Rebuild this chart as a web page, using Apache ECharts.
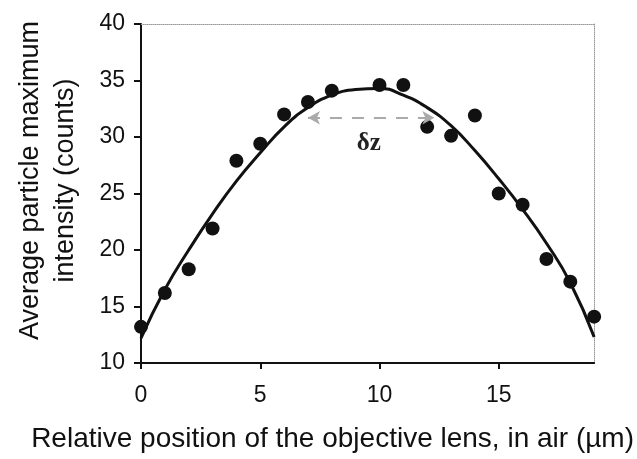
<!DOCTYPE html>
<html>
<head>
<meta charset="utf-8">
<script src="https://cdn.jsdelivr.net/npm/echarts@6/dist/echarts.min.js"></script>
<style>html,body{margin:0;padding:0;background:#fff;}#c{width:637px;height:459px;}</style>
</head>
<body>
<div id="c"></div>
<script>
// Measured points
const pointX = [0, 1, 2, 3, 4, 5, 6, 7, 8, 10, 11, 12, 13, 14, 15, 16, 17, 18, 19];
const pointY = [13.2, 16.2, 18.3, 21.9, 27.9, 29.4, 32.0, 33.1, 34.1, 34.6, 34.6, 30.9, 30.1, 31.9, 25.0, 24.0, 19.2, 17.2, 14.1];
// Fitted curve
const curveX = [0, 1, 2, 3, 4, 5, 6, 7, 8, 9, 10, 11, 12, 13, 14, 15, 16, 17, 18, 19];
const curveY = [12.2, 16.5, 20.0, 23.2, 26.1, 28.6, 30.9, 32.6, 33.7, 34.2, 34.3, 33.7, 32.6, 31.0, 28.8, 26.3, 23.6, 20.6, 17.1, 12.3];
// delta-z arrow
const arrowFrom = [7.0, 31.7];
const arrowTo = [12.3, 31.7];
const deltaLabelPos = [9.55, 29.4];
const xTicks = [0, 5, 10, 15];
const yTicks = [10, 15, 20, 25, 30, 35, 40];

const chart = echarts.init(document.getElementById('c'), null, {renderer: 'canvas'});
const font = 'Liberation Sans, Arial, sans-serif';
chart.setOption({
  animation: false,
  backgroundColor: '#fff',
  grid: {left: 141, top: 24, width: 454, height: 339, containLabel: false},
  xAxis: [{
    type: 'value', min: 0, max: 19, interval: 5,
    name: 'Relative position of the objective lens, in air (\u00b5m)',
    nameLocation: 'middle', nameGap: 62,
    nameTextStyle: {fontFamily: font, fontSize: 28, color: '#111', padding: [0, 70, 0, 0]},
    axisLine: {show: true, lineStyle: {color: '#111', width: 2}},
    axisTick: {show: true, inside: false, length: 6, lineStyle: {color: '#111', width: 2}, customValues: xTicks},
    axisLabel: {fontFamily: font, fontSize: 23, color: '#111', margin: 21, customValues: xTicks},
    splitLine: {show: false}
  }, {
    type: 'value', min: 0, max: 19, position: 'top',
    axisLine: {show: true, onZero: false, lineStyle: {color: '#999', width: 1, type: 'dotted'}},
    axisTick: {show: false}, axisLabel: {show: false}, splitLine: {show: false}
  }],
  yAxis: [{
    type: 'value', min: 10, max: 40, interval: 5,
    name: 'Average particle maximum\nintensity (counts)',
    nameLocation: 'middle', nameGap: 58, nameRotate: 90,
    nameTextStyle: {fontFamily: font, fontSize: 27, color: '#111', lineHeight: 35, padding: [0, 0, 0, 26]},
    axisLine: {show: true, lineStyle: {color: '#111', width: 2}},
    axisTick: {show: true, inside: false, length: 7, lineStyle: {color: '#111', width: 2}, customValues: yTicks},
    axisLabel: {fontFamily: font, fontSize: 23, color: '#111', margin: 16, customValues: yTicks},
    splitLine: {show: false}
  }, {
    type: 'value', min: 10, max: 40, position: 'right',
    axisLine: {show: true, onZero: false, lineStyle: {color: '#999', width: 1, type: 'dotted'}},
    axisTick: {show: false}, axisLabel: {show: false}, splitLine: {show: false}
  }],
  series: [{
    type: 'line',
    data: curveX.map((x, i) => [x, curveY[i]]),
    smooth: true,
    showSymbol: false,
    lineStyle: {color: '#111', width: 3},
    z: 2,
    markLine: {
      silent: true,
      symbol: ['arrow', 'arrow'],
      symbolSize: [10, 12],
      lineStyle: {color: '#aaa', width: 2, type: [12, 10]},
      label: {show: false},
      data: [[{coord: arrowFrom}, {coord: arrowTo}]]
    },
    markPoint: {
      silent: true,
      symbol: 'circle', symbolSize: 0,
      label: {show: true, formatter: '\u03b4z', fontFamily: 'Liberation Serif, Times New Roman, serif', fontWeight: 'bold', fontSize: 25, color: '#222', position: 'inside'},
      data: [{coord: deltaLabelPos}]
    }
  }, {
    type: 'scatter',
    data: pointX.map((x, i) => [x, pointY[i]]),
    symbol: 'circle',
    symbolSize: 14,
    itemStyle: {color: '#111', opacity: 1},
    z: 3
  }]
});
</script>
</body>
</html>
